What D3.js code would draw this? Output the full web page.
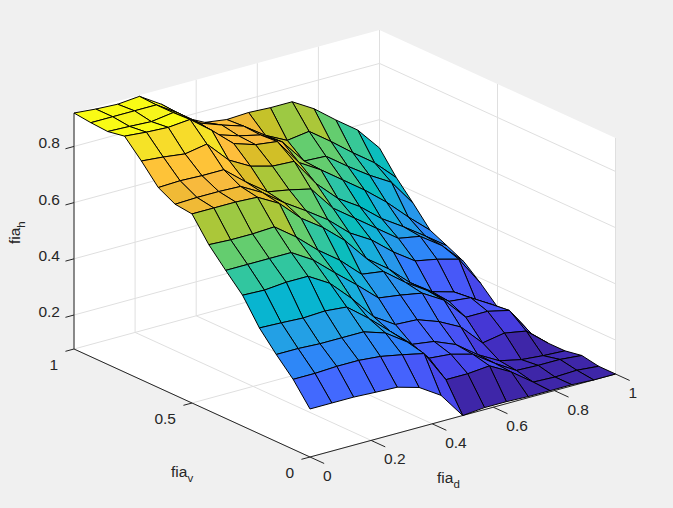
<!DOCTYPE html>
<html>
<head>
<meta charset="utf-8">
<script src="https://cdn.jsdelivr.net/npm/d3@7"></script>
<style>
  html, body { margin: 0; padding: 0; background: #f0f0f0; }
  text { font-family: "Liberation Sans", Arial, sans-serif; fill: #262626; }
</style>
</head>
<body>
<div id="chart"></div>
<script>
// grid of the surface
const fiaD = d3.range(15).map((i) => i / 14);
const fiaV = d3.range(15).map((i) => i / 14);

// fia_h, one row per fia_v value (first row fia_v = 0)
const z00 = [.250,.250,.250,.246,.243,.221,.172,.079,.086,.086,.083,.083,.083,.079,.079];
const z01 = [.328,.328,.332,.332,.325,.310,.293,.179,.179,.186,.143,.086,.083,.086,.079];
const z02 = [.389,.389,.385,.385,.385,.360,.307,.228,.221,.200,.147,.100,.097,.097,.090];
const z03 = [.456,.453,.449,.453,.446,.385,.317,.250,.239,.207,.150,.107,.090,.083,.079];
const z04 = [.545,.542,.549,.549,.503,.428,.342,.293,.289,.261,.221,.143,.157,.143,.079];
const z05 = [.606,.606,.606,.606,.559,.492,.428,.360,.349,.335,.289,.207,.207,.189,.086];
const z06 = [.670,.666,.666,.670,.613,.545,.488,.417,.406,.346,.296,.236,.228,.182,.122];
const z07 = [.752,.752,.752,.748,.705,.631,.577,.510,.424,.367,.296,.243,.221,.172,.125];
const z08 = [.759,.762,.762,.759,.716,.659,.609,.556,.488,.442,.378,.325,.310,.289,.182];
const z09 = [.791,.794,.791,.791,.727,.670,.656,.638,.549,.492,.435,.378,.364,.310,.232];
const z10 = [.858,.851,.841,.855,.777,.734,.713,.709,.609,.535,.485,.421,.371,.317,.261];
const z11 = [.919,.912,.908,.915,.855,.787,.762,.752,.656,.609,.552,.495,.431,.357,.289];
const z12 = [.908,.905,.901,.912,.858,.791,.766,.748,.702,.613,.609,.552,.499,.453,.357];
const z13 = [.912,.912,.912,.912,.862,.805,.777,.752,.698,.659,.670,.613,.552,.495,.421];
const z14 = [.919,.912,.908,.915,.866,.798,.759,.748,.752,.748,.748,.702,.641,.584,.499];
const fiaH = [z00,z01,z02,z03,z04,z05,z06,z07,z08,z09,z10,z11,z12,z13,z14];

const dTicks = [0, 0.2, 0.4, 0.6, 0.8, 1];
const vTicks = [0, 0.5, 1];
const zTicks = [0.2, 0.4, 0.6, 0.8];
const zLim = [0.079, 0.919];

const parula = [
  [.2422,.1504,.6603],[.2504,.1650,.7076],[.2578,.1818,.7511],[.2647,.1978,.7952],
  [.2706,.2147,.8364],[.2751,.2342,.8710],[.2783,.2559,.8991],[.2803,.2782,.9221],
  [.2813,.3006,.9414],[.2810,.3228,.9579],[.2795,.3447,.9717],[.2760,.3667,.9829],
  [.2699,.3892,.9906],[.2602,.4123,.9952],[.2440,.4358,.9988],[.2206,.4603,.9973],
  [.1963,.4847,.9892],[.1834,.5074,.9798],[.1786,.5289,.9682],[.1764,.5499,.9520],
  [.1687,.5703,.9359],[.1540,.5902,.9218],[.1460,.6091,.9079],[.1380,.6276,.8973],
  [.1248,.6459,.8883],[.1113,.6635,.8763],[.0952,.6798,.8598],[.0689,.6948,.8394],
  [.0297,.7082,.8163],[.0036,.7203,.7917],[.0067,.7312,.7660],[.0433,.7411,.7394],
  [.0964,.7500,.7120],[.1408,.7584,.6842],[.1717,.7670,.6554],[.1938,.7758,.6251],
  [.2161,.7843,.5923],[.2470,.7918,.5567],[.2906,.7973,.5188],[.3406,.8008,.4789],
  [.3909,.8029,.4354],[.4456,.8024,.3909],[.5044,.7993,.3480],[.5616,.7942,.3045],
  [.6174,.7876,.2612],[.6720,.7793,.2227],[.7242,.7698,.1910],[.7738,.7598,.1646],
  [.8203,.7498,.1535],[.8634,.7406,.1596],[.9035,.7330,.1774],[.9393,.7288,.2100],
  [.9728,.7298,.2394],[.9956,.7434,.2371],[.9970,.7659,.2199],[.9952,.7893,.2028],
  [.9892,.8136,.1885],[.9786,.8386,.1766],[.9676,.8639,.1643],[.9610,.8890,.1537],
  [.9597,.9135,.1423],[.9628,.9373,.1265],[.9691,.9606,.1064],[.9769,.9839,.0805]
].map((c) => d3.rgb(c[0] * 255, c[1] * 255, c[2] * 255).formatHex());

const width = 673, height = 508;

// the oblique view is a sum of one scale per data axis
const xOfD = d3.scaleLinear().domain([0, 1]).range([310, 615.5]);
const xOfV = d3.scaleLinear().domain([0, 1]).range([0, -236]);
const yOfD = d3.scaleLinear().domain([0, 1]).range([457, 374]);
const yOfV = d3.scaleLinear().domain([0, 1]).range([0, -108]);
const yOfZ = d3.scaleLinear().domain(zLim).range([0, -236]);
const color = d3.scaleQuantize().domain(zLim).range(parula);

const px = (d, v) => xOfD(d) + xOfV(v);
const py = (d, v, z) => yOfD(d) + yOfV(v) + yOfZ(z);
const pt = (d, v, z) => [px(d, v), py(d, v, z)];
const zLo = zLim[0], zHi = zLim[1];

const svg = d3.select('#chart').append('svg')
  .attr('width', width)
  .attr('height', height)
  .style('display', 'block');

const line = d3.line();

// white panes
const panes = [
  [pt(0, 0, zLo), pt(1, 0, zLo), pt(1, 1, zLo), pt(0, 1, zLo)],
  [pt(0, 1, zLo), pt(1, 1, zLo), pt(1, 1, zHi), pt(0, 1, zHi)],
  [pt(1, 1, zLo), pt(1, 0, zLo), pt(1, 0, zHi), pt(1, 1, zHi)]
];
svg.append('g').selectAll('path').data(panes).join('path')
  .attr('d', (d) => line(d) + 'Z')
  .attr('fill', '#fff');

// grid
const gridLines = [];
dTicks.forEach((t) => {
  gridLines.push([pt(t, 0, zLo), pt(t, 1, zLo)]);
  gridLines.push([pt(t, 1, zLo), pt(t, 1, zHi)]);
});
vTicks.forEach((t) => {
  gridLines.push([pt(0, t, zLo), pt(1, t, zLo)]);
  gridLines.push([pt(1, t, zLo), pt(1, t, zHi)]);
});
zTicks.forEach((t) => {
  gridLines.push([pt(0, 1, t), pt(1, 1, t)]);
  gridLines.push([pt(1, 1, t), pt(1, 0, t)]);
});
svg.append('g').selectAll('path').data(gridLines).join('path')
  .attr('d', (d) => line(d))
  .attr('fill', 'none')
  .attr('stroke', '#dfdfdf')
  .attr('stroke-width', 1);

// axis lines and ticks
const axisLines = [
  [pt(0, 1, zLo), pt(0, 1, zHi)],
  [pt(0, 0, zLo), pt(1, 0, zLo)],
  [pt(0, 0, zLo), pt(0, 1, zLo)]
];
dTicks.forEach((t) => axisLines.push([pt(t, 0, zLo), pt(t, -0.06, zLo)]));
vTicks.forEach((t) => axisLines.push([pt(0, t, zLo), pt(-0.028, t, zLo)]));
zTicks.forEach((t) => axisLines.push([pt(0, 1, t), pt(-0.028, 1, t)]));
svg.append('g').selectAll('path').data(axisLines).join('path')
  .attr('d', (d) => line(d))
  .attr('fill', 'none')
  .attr('stroke', '#262626')
  .attr('stroke-width', 1);

// surface, far cells first; a flat cell takes the colour of its lowest index corner
const cells = [];
for (let j = fiaV.length - 2; j >= 0; j--) {
  for (let k = fiaD.length - 2; k >= 0; k--) {
    cells.push({
      z: fiaH[j][k],
      corners: [
        pt(fiaD[k], fiaV[j], fiaH[j][k]),
        pt(fiaD[k + 1], fiaV[j], fiaH[j][k + 1]),
        pt(fiaD[k + 1], fiaV[j + 1], fiaH[j + 1][k + 1]),
        pt(fiaD[k], fiaV[j + 1], fiaH[j + 1][k])
      ]
    });
  }
}
svg.append('g').selectAll('path').data(cells).join('path')
  .attr('d', (d) => line(d.corners) + 'Z')
  .attr('fill', (d) => color(d.z))
  .attr('stroke', '#000')
  .attr('stroke-width', 1)
  .attr('stroke-linejoin', 'round');

// tick labels
const fontSize = 15.5;
svg.append('g').selectAll('text').data(zTicks).join('text')
  .attr('x', 60)
  .attr('y', (d) => py(0, 1, d) + 2)
  .attr('text-anchor', 'end')
  .attr('font-size', fontSize)
  .text((d) => d);
svg.append('g').selectAll('text').data(dTicks).join('text')
  .attr('x', (d) => px(d, 0) + 13)
  .attr('y', (d) => py(d, 0, zLo) + 24)
  .attr('text-anchor', 'start')
  .attr('font-size', fontSize)
  .text((d) => d);
svg.append('g').selectAll('text').data(vTicks).join('text')
  .attr('x', (d) => px(0, d) - 16)
  .attr('y', (d) => py(0, d, zLo) + 21)
  .attr('text-anchor', 'end')
  .attr('font-size', fontSize)
  .text((d) => d);

// axis titles with subscript
const titles = [
  { name: 'd', x: 437, y: 483, rotate: 0 },
  { name: 'v', x: 171, y: 477, rotate: 0 },
  { name: 'h', x: 20, y: 244, rotate: -90 }
];
titles.forEach((t) => {
  const label = svg.append('text')
    .attr('transform', 'translate(' + t.x + ',' + t.y + ') rotate(' + t.rotate + ')')
    .attr('font-size', fontSize)
    .text('fia');
  label.append('tspan')
    .attr('font-size', 11.5)
    .attr('dy', 5)
    .text(t.name);
});
</script>
</body>
</html>
